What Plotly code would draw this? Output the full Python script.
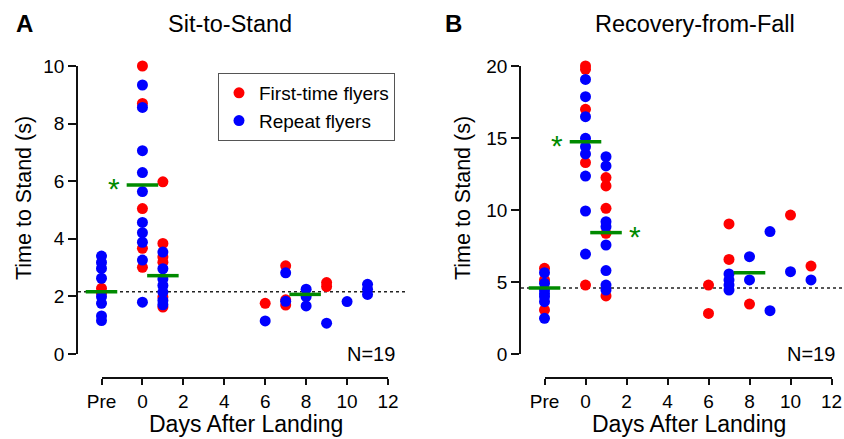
import plotly.graph_objects as go

# ---------------- data ----------------
PRE = -2  # position of the "Pre" column on the day axis
tick_vals = [-2, 0, 2, 4, 6, 8, 10, 12]
tick_text = ["Pre", "0", "2", "4", "6", "8", "10", "12"]

# Panel A: Sit-to-Stand
A_first_days = [PRE, PRE, 0, 0, 0, 0, 0, 1, 1, 1, 1, 1, 1, 6, 7, 7, 7, 9, 9]
A_first_vals = [2.28, 2.11, 10.0, 8.70, 5.05, 3.67, 3.01, 5.98, 3.84, 3.37, 3.19, 1.98, 1.63,
                1.76, 3.06, 1.88, 1.70, 2.48, 2.34]
A_rep_days = [PRE, PRE, PRE, PRE, PRE, PRE, PRE, PRE,
              0, 0, 0, 0, 0, 0, 0, 0, 0, 0,
              1, 1, 1, 1, 1, 1, 1,
              6, 7, 7, 8, 8, 8, 9, 10, 11, 11, 11]
A_rep_vals = [3.40, 3.18, 2.97, 2.63, 1.99, 1.76, 1.32, 1.16,
              9.34, 8.56, 7.06, 6.30, 5.64, 4.57, 4.21, 3.88, 3.26, 1.80,
              3.54, 2.96, 2.60, 2.38, 2.15, 1.86, 1.71,
              1.15, 2.82, 1.83, 2.25, 1.99, 1.67, 1.07, 1.82, 2.42, 2.25, 2.07]
A_mean_days = [PRE, 0, 1, 7.95]
A_means = [2.16, 5.87, 2.72, 2.07]
A_sig_days = [0]
A_sig_vals = [5.90]
A_sig_side = [-1]

# Panel B: Recovery-from-Fall
B_first_days = [PRE, PRE, PRE, 0, 0, 0, 0, 0, 1, 1, 1, 1, 1, 6, 6, 7, 7, 8, 10, 11]
B_first_vals = [5.95, 5.14, 3.06, 20.0, 19.77, 16.99, 13.29, 4.79,
                12.25, 11.67, 10.12, 8.38, 4.03,
                4.79, 2.82, 9.03, 6.57, 3.47, 9.65, 6.11]
B_rep_days = [PRE, PRE, PRE, PRE, PRE, PRE, PRE,
              0, 0, 0, 0, 0, 0, 0, 0, 0,
              1, 1, 1, 1, 1, 1, 1, 1,
              7, 7, 7, 7, 8, 8, 9, 9, 10, 11]
B_rep_vals = [5.65, 4.91, 4.44, 4.20, 3.98, 3.63, 2.48,
              19.07, 17.87, 16.48, 14.98, 14.40, 13.89, 12.36, 9.93, 6.94,
              13.70, 13.06, 9.19, 8.84, 7.57, 5.79, 4.79, 4.44,
              5.56, 5.14, 4.79, 4.44, 6.76, 5.14, 8.50, 3.01, 5.72, 5.14]
B_mean_days = [PRE, 0, 1, 8.0]
B_means = [4.58, 14.74, 8.43, 5.65]
B_sig_days = [0, 1]
B_sig_vals = [14.78, 8.43]
B_sig_side = [-1, 1]

# ---------------- styling / geometry ----------------
W, H = 844, 439
FONT = "Liberation Sans, Arial, Helvetica, sans-serif"
RED, BLUE, GREEN = "#ff0000", "#0000ff", "#008a00"
HALF = 0.77      # half width of the mean bars (days)
STAR_GAP = 0.62  # gap between bar end and asterisk (days)


def px(x):
    return x / W


def py(y):
    return 1 - y / H


# pixel geometry of each panel: y-axis line x, "Pre" tick x, "12" tick x, right edge
panels = {
    "A": dict(yline=78, pre=101.5, end=388.0, right=408, ymax=10, dy=2),
    "B": dict(yline=521, pre=544.5, end=831.5, right=842, ymax=20, dy=5),
}
Y_TOP, Y_BOT, X_LINE = 66, 354, 378

fig = go.Figure()
layout = dict(
    width=W, height=H, margin=dict(l=0, r=0, t=0, b=0, autoexpand=False),
    paper_bgcolor="white", plot_bgcolor="rgba(0,0,0,0)",
    font=dict(family=FONT, size=19, color="black"),
    showlegend=True,
)

datasets = {
    "A": (A_first_days, A_first_vals, A_rep_days, A_rep_vals, A_mean_days, A_means,
          A_sig_days, A_sig_vals, A_sig_side),
    "B": (B_first_days, B_first_vals, B_rep_days, B_rep_vals, B_mean_days, B_means,
          B_sig_days, B_sig_vals, B_sig_side),
}

annotations = []
shapes = []
for i, key in enumerate(["A", "B"]):
    g = panels[key]
    fd, fv, rd, rv, md, mv, sd, sv, ss = datasets[key]
    scale = (g["end"] - g["pre"]) / 14.0
    xmin = -2 - (g["pre"] - g["yline"]) / scale
    xmax = 12 + (g["right"] - g["end"]) / scale
    xa = "x" if i == 0 else "x2"
    ya = "y" if i == 0 else "y2"
    xt = "x3" if i == 0 else "x4"
    xn = "xaxis" if i == 0 else "xaxis2"
    yn = "yaxis" if i == 0 else "yaxis2"
    xtn = "xaxis3" if i == 0 else "xaxis4"

    layout[xn] = dict(domain=[px(g["yline"]), px(g["right"])], range=[xmin, xmax],
                      visible=False, anchor=ya)
    layout[yn] = dict(domain=[py(Y_BOT), py(Y_TOP)], range=[0, g["ymax"]], anchor=xa,
                      showline=True, linecolor="#111", linewidth=1.5,
                      ticks="outside", ticklen=8, tickwidth=1.5, tickcolor="#111",
                      tickvals=list(range(0, g["ymax"] + 1, g["dy"])),
                      showgrid=False, zeroline=False,
                      tickfont=dict(size=19, family=FONT))
    layout[xtn] = dict(domain=[px(g["pre"]), px(g["end"])], range=[-2, 12],
                       anchor="free", position=py(X_LINE),
                       showline=True, linecolor="#111", linewidth=1.5,
                       ticks="outside", ticklen=6, tickwidth=1.5, tickcolor="#111",
                       tickvals=tick_vals, ticktext=tick_text,
                       showgrid=False, zeroline=False,
                       tickfont=dict(size=19, family=FONT))
    # dummy trace so the tick axis is drawn
    fig.add_trace(go.Scatter(x=[None], y=[None], xaxis=xt, yaxis=ya, showlegend=False,
                             hoverinfo="skip"))

    # baseline (pre-flight mean) dotted line
    shapes.append(dict(type="line", xref=f"{xa} domain", yref=ya, x0=0, x1=1,
                       y0=mv[0], y1=mv[0], line=dict(color="#222", width=1.6, dash="dot"),
                       layer="below"))

    fig.add_trace(go.Scatter(x=fd, y=fv, xaxis=xa, yaxis=ya, mode="markers",
                             marker=dict(color=RED, size=11, line=dict(width=0)),
                             name="First-time flyers", showlegend=(i == 0),
                             legendgroup="f", cliponaxis=False))
    fig.add_trace(go.Scatter(x=rd, y=rv, xaxis=xa, yaxis=ya, mode="markers",
                             marker=dict(color=BLUE, size=11, line=dict(width=0)),
                             name="Repeat flyers", showlegend=(i == 0),
                             legendgroup="r", cliponaxis=False))
    # mean bars
    bx, by = [], []
    for d, m in zip(md, mv):
        bx += [d - HALF, d + HALF, None]
        by += [m, m, None]
    fig.add_trace(go.Scatter(x=bx, y=by, xaxis=xa, yaxis=ya, mode="lines",
                             line=dict(color=GREEN, width=3.5), showlegend=False,
                             hoverinfo="skip"))
    # significance asterisks
    for d, v, s in zip(sd, sv, ss):
        annotations.append(dict(x=d + s * (HALF + STAR_GAP), y=v, xref=xa, yref=ya,
                                xanchor="center", yanchor="middle",
                                text="*", showarrow=False, yshift=-4,
                                font=dict(size=30, color=GREEN, family=FONT)))


def label(x, y, text, size, angle=0):
    return dict(x=px(x), y=py(y), xref="paper", yref="paper", text=text,
                showarrow=False, xanchor="center", yanchor="middle", textangle=angle,
                font=dict(size=size, family=FONT, color="black"))


annotations += [
    label(24, 24, "<b>A</b>", 24),
    label(454, 24, "<b>B</b>", 24),
    label(230, 24, "Sit-to-Stand", 23.5),
    label(695, 24, "Recovery-from-Fall", 23.5),
    label(24, 198, "Time to Stand (s)", 21.5, -90),
    label(463, 198, "Time to Stand (s)", 21.5, -90),
    label(246.5, 424, "Days After Landing", 23),
    label(688.5, 424, "Days After Landing", 23),
    label(371, 354, "N=19", 20),
    label(811, 354, "N=19", 20),
]

layout["annotations"] = annotations
layout["shapes"] = shapes
layout["legend"] = dict(x=px(218), y=py(73), xanchor="left", yanchor="top",
                        bordercolor="#555", borderwidth=1, bgcolor="white",
                        font=dict(size=19, family=FONT), tracegroupgap=0,
                        itemwidth=30)
fig.update_layout(**layout)
fig.write_html("out.html", config={"displayModeBar": False},
               post_script="document.body.style.margin='0px';")
